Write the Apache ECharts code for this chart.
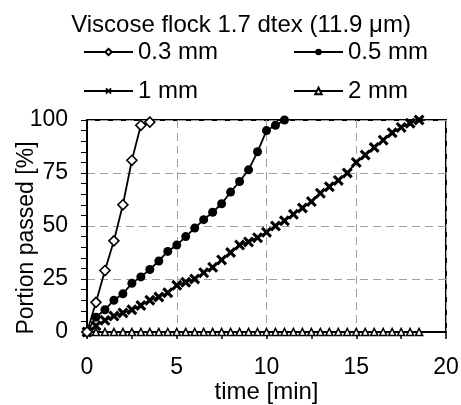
<!DOCTYPE html>
<html>
<head>
<meta charset="utf-8">
<script src="https://cdn.jsdelivr.net/npm/echarts@6/dist/echarts.min.js"></script>
<style>
  html, body { margin: 0; padding: 0; background: #fff; }
  #main { width: 461px; height: 405px; }
</style>
</head>
<body>
<div id="main"></div>
<script>
var chartDom = document.getElementById('main');
var myChart = echarts.init(chartDom);
var option;

// time [min] and portion passed [%] per sieve opening
var time03 = [0, 0.5, 1, 1.5, 2, 2.5, 3, 3.5];
var pass03 = [0, 14, 29, 43, 60, 81, 97.5, 99];

var time05 = [0, 0.5, 1, 1.5, 2, 2.5, 3, 3.5, 4, 4.5, 5, 5.5, 6, 6.5, 7, 7.5, 8, 8.5, 9, 9.5, 10, 10.5, 11];
var pass05 = [0, 7, 10.5, 15, 18, 23, 26, 29.5, 33.5, 38, 41, 45, 49, 53, 56.5, 60.5, 66, 71, 76.5, 85, 95, 97.5, 100];

var time1 = [0, 0.5, 1, 1.5, 2, 2.5, 3, 3.5, 4, 4.5, 5, 5.5, 6, 6.5, 7, 7.5, 8, 8.5, 9, 9.5,
  10, 10.5, 11, 11.5, 12, 12.5, 13, 13.5, 14, 14.5, 15, 15.5, 16, 16.5, 17, 17.5, 18, 18.5];
var pass1 = [0, 3, 5.5, 7.5, 9, 10.5, 12.5, 15, 16.5, 18.5, 22, 23.5, 25, 28, 30.5, 34, 37.5, 41, 42.5, 44.5,
  47, 50, 52.5, 55.5, 58.5, 61.5, 65.5, 68.5, 71.5, 75, 80, 83.5, 87, 90.5, 94, 96.5, 98.5, 100];

var time2 = [0, 0.5, 1, 1.5, 2, 2.5, 3, 3.5, 4, 4.5, 5, 5.5, 6, 6.5, 7, 7.5, 8, 8.5, 9, 9.5,
  10, 10.5, 11, 11.5, 12, 12.5, 13, 13.5, 14, 14.5, 15, 15.5, 16, 16.5, 17, 17.5, 18, 18.5];
var pass2 = [0, 0, 0, 0, 0, 0, 0, 0, 0, 0, 0, 0, 0, 0, 0, 0, 0, 0, 0, 0,
  0, 0, 0, 0, 0, 0, 0, 0, 0, 0, 0, 0, 0, 0, 0, 0, 0, 0];

var names = ['0.3 mm', '0.5 mm', '1 mm', '2 mm'];
var xTicks = [0, 5, 10, 15, 20];
var yTicks = [0, 25, 50, 75, 100];

function pairs(t, v) {
  return t.map(function (x, i) { return [x, v[i]]; });
}

var font = 'Liberation Sans, Arial, sans-serif';
// bold "x" marker, drawn as a filled outline
var crossPath = 'path://M0,2 L2,0 L5,3 L8,0 L10,2 L7,5 L10,8 L8,10 L5,7 L2,10 L0,8 L3,5 Z';

function legendAt(name, left, top) {
  return {
    data: [name],
    left: left,
    top: top,
    itemWidth: 49,
    itemHeight: 8,
    itemGap: 0,
    selectedMode: false,
    textStyle: { fontFamily: font, fontSize: 24, color: '#000' }
  };
}

function lineSeries(name, data, symbol, size, fill) {
  return {
    name: name,
    type: 'line',
    data: data,
    symbol: symbol,
    symbolSize: size,
    showAllSymbol: true,
    animation: false,
    lineStyle: { color: '#000', width: 1.8 },
    itemStyle: { color: fill, borderColor: '#000', borderWidth: symbol === 'circle' || symbol === crossPath ? 0 : 1.6 }
  };
}

option = {
  backgroundColor: '#fff',
  title: {
    text: 'Viscose flock 1.7 dtex (11.9 μm)',
    left: 236,
    textAlign: 'center',
    top: 8,
    textStyle: { fontFamily: font, fontSize: 24, fontWeight: 'normal', color: '#000' }
  },
  legend: [
    legendAt(names[0], 78, 35),
    legendAt(names[1], 288, 35),
    legendAt(names[2], 78, 74),
    legendAt(names[3], 288, 74)
  ],
  grid: {
    left: 87, right: 15, top: 120, bottom: 73,
    outerBoundsMode: 'none',
    show: true, borderColor: '#000', borderWidth: 2
  },
  xAxis: {
    type: 'value',
    min: xTicks[0],
    max: xTicks[xTicks.length - 1],
    interval: 5,
    name: 'time [min]',
    nameLocation: 'middle',
    nameGap: 48,
    nameMoveOverlap: false,
    nameTextStyle: { fontFamily: font, fontSize: 24, color: '#000' },
    axisLine: { lineStyle: { color: '#000', width: 2 } },
    axisTick: { show: true, inside: false, length: 7, lineStyle: { color: '#000', width: 1.5 } },
    minorTick: { show: true, splitNumber: 2, length: 7, lineStyle: { color: '#000', width: 1.5 } },
    axisLabel: { fontFamily: font, fontSize: 23, color: '#000', margin: 24 },
    splitLine: { show: true, lineStyle: { color: '#a0a0a0', width: 1, type: [8, 5] } }
  },
  yAxis: {
    type: 'value',
    min: yTicks[0],
    max: yTicks[yTicks.length - 1],
    interval: 25,
    name: 'Portion passed [%]',
    nameLocation: 'middle',
    nameGap: 49,
    nameMoveOverlap: false,
    nameTextStyle: { fontFamily: font, fontSize: 23, color: '#000', padding: [0, 24, 0, 0] },
    axisLine: { show: true, lineStyle: { color: '#000', width: 2 } },
    axisTick: { show: true, inside: false, length: 6, lineStyle: { color: '#000', width: 1 } },
    minorTick: { show: true, splitNumber: 5, length: 6, lineStyle: { color: '#000', width: 1 } },
    axisLabel: { fontFamily: font, fontSize: 23, color: '#000', margin: 19 },
    splitLine: { show: true, lineStyle: { color: '#a0a0a0', width: 1, type: [8, 5] } }
  },
  series: [
    lineSeries(names[2], pairs(time1, pass1), crossPath, 11, '#000'),
    lineSeries(names[3], pairs(time2, pass2), 'triangle', 7, '#fff'),
    lineSeries(names[1], pairs(time05, pass05), 'circle', 9, '#000'),
    lineSeries(names[0], pairs(time03, pass03), 'diamond', 10, '#fff')
  ]
};

option && myChart.setOption(option);
</script>
</body>
</html>
